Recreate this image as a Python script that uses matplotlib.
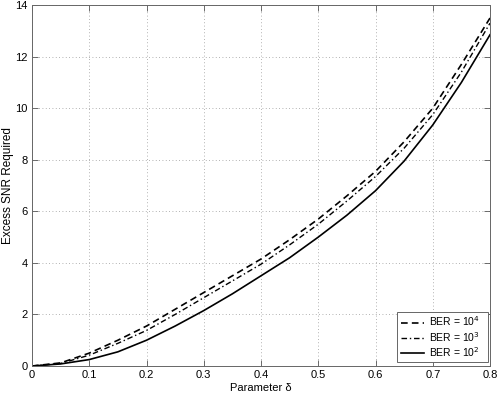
import matplotlib
matplotlib.use("Agg")
import matplotlib.pyplot as plt

plt.rcParams['font.family'] = ['Liberation Sans', 'DejaVu Sans']

delta = [0.0, 0.05, 0.1, 0.15, 0.2, 0.25, 0.3, 0.35, 0.4, 0.45, 0.5, 0.55, 0.6, 0.65, 0.7, 0.75, 0.8]
snr_ber4 = [0.0, 0.12, 0.5, 1.0, 1.55, 2.2, 2.85, 3.5, 4.15, 4.9, 5.7, 6.6, 7.55, 8.7, 10.0, 11.7, 13.5]
snr_ber3 = [0.0, 0.1, 0.42, 0.88, 1.38, 2.0, 2.65, 3.3, 3.95, 4.7, 5.5, 6.4, 7.35, 8.45, 9.75, 11.4, 13.3]
snr_ber2 = [0.0, 0.08, 0.25, 0.55, 1.0, 1.55, 2.15, 2.8, 3.5, 4.2, 5.0, 5.85, 6.8, 7.95, 9.35, 11.0, 12.85]
labels = ['BER = 10$^4$', 'BER = 10$^3$', 'BER = 10$^2$']
xticks = [0, 0.1, 0.2, 0.3, 0.4, 0.5, 0.6, 0.7, 0.8]
yticks = [0, 2, 4, 6, 8, 10, 12, 14]

fig = plt.figure(figsize=(5.0, 3.95), dpi=100)
ax = fig.add_axes([0.064, 0.0734, 0.916, 0.9136])

ax.plot(delta, snr_ber4, color='black', lw=1.2, linestyle=(0, (4, 2.5)), label=labels[0])
ax.plot(delta, snr_ber3, color='black', lw=1.0, linestyle=(0, (4, 2, 1, 2)), label=labels[1])
ax.plot(delta, snr_ber2, color='black', lw=1.2, linestyle='-', label=labels[2])

ax.set_xlim(0, 0.8)
ax.set_ylim(0, 14)
ax.set_xticks(xticks)
ax.set_xticklabels(['0', '0.1', '0.2', '0.3', '0.4', '0.5', '0.6', '0.7', '0.8'])
ax.set_yticks(yticks)
ax.grid(True, linestyle=(0, (1, 3)), color='#999999', lw=0.6)
ax.tick_params(direction='in', top=True, right=True, labelsize=8, length=4,
               color='#555555', width=0.6, pad=3)
for s in ax.spines.values():
    s.set_color('#666666')
    s.set_linewidth(0.7)

ax.set_xlabel('Parameter δ', fontsize=8, labelpad=2)
ax.set_ylabel('Excess SNR Required', fontsize=8.5)
ax.yaxis.set_label_coords(-0.039, 0.5)

leg = ax.legend(loc='lower left', bbox_to_anchor=(0.798, 0.012, 0.197, 0.13),
                mode='expand', fontsize=7.5, fancybox=False, framealpha=1,
                edgecolor='#666666', handlelength=2.2, borderaxespad=0.0,
                labelspacing=0.12, handletextpad=0.5, borderpad=0.3)
leg.get_frame().set_linewidth(0.7)

fig.savefig('out.png', dpi=100)
